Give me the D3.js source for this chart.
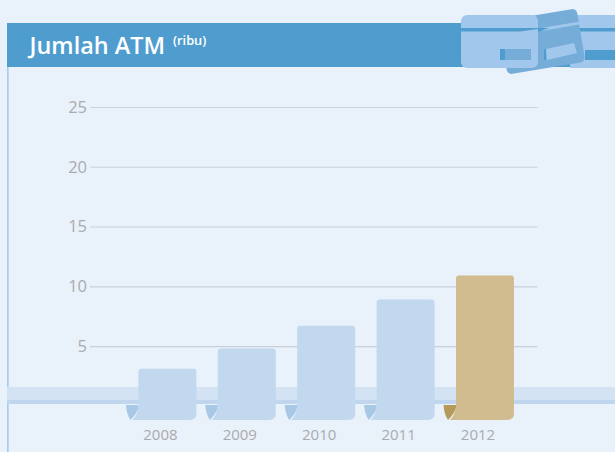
<!DOCTYPE html>
<html>
<head>
<meta charset="utf-8">
<script src="https://d3js.org/d3.v7.min.js"></script>
<style>
  html, body { margin: 0; padding: 0; background: #e9f1fa; }
  svg { display: block; font-family: "Open Sans", sans-serif; }
</style>
</head>
<body>
<script>
var years = ["2008", "2009", "2010", "2011", "2012"];
var atm = [3.1, 4.8, 6.7, 8.9, 10.9];
var yTicks = [5, 10, 15, 20, 25];

var width = 615, height = 452;
var svg = d3.select("body").append("svg").attr("width", width).attr("height", height);

var y = d3.scaleLinear().domain([0, 25]).range([405.8, 107]);
var x = d3.scaleBand().domain(years).range([127.7, 524.7]).paddingInner(0.27).paddingOuter(0.135);
var baseY = 420;

// header
svg.append("rect").attr("x", 7).attr("y", 23).attr("width", 608).attr("height", 44).attr("fill", "#4f9dcf");
svg.append("rect").attr("x", 7).attr("y", 67).attr("width", 1.7).attr("height", 385).attr("fill", "#a8cdea");

svg.append("text").attr("x", 29.5).attr("y", 54).attr("fill", "#fff").attr("font-size", 23.4).attr("font-weight", 600).text("Jumlah ATM");
svg.append("text").attr("x", 173).attr("y", 45).attr("fill", "#fff").attr("font-size", 12.8).attr("font-weight", 600).text("(ribu)");

// kartu ATM
var cardLight = "#a1c8ec", cardDark = "#76acd8", stripe = "#4f9dcf";
var icon = svg.append("g");
// kartu kanan
icon.append("rect").attr("x", 570).attr("y", 15).attr("width", 50).attr("height", 53).attr("fill", cardLight);
icon.append("rect").attr("x", 570).attr("y", 28).attr("width", 45).attr("height", 3.5).attr("fill", stripe);
icon.append("rect").attr("x", 585).attr("y", 50).attr("width", 30).attr("height", 10).attr("fill", stripe);
// kartu miring
var back = icon.append("g").attr("transform", "translate(542,41.5) rotate(-9.5)");
back.append("rect").attr("x", -39.5).attr("y", -27).attr("width", 79).attr("height", 54).attr("rx", 5).attr("fill", cardDark);
back.append("rect").attr("x", 3).attr("y", -13.5).attr("width", 36.5).attr("height", 3).attr("fill", cardLight);
icon.append("path").attr("d", "M538,28H549L538,32Z").attr("fill", stripe);
icon.append("rect").attr("x", 544).attr("y", 49).attr("width", 2).attr("height", 11).attr("fill", stripe);
icon.append("path").attr("d", "M546,49L574,43L577,53L547,60Z").attr("fill", cardLight);
// kartu depan
icon.append("rect").attr("x", 461).attr("y", 15).attr("width", 77).attr("height", 53).attr("rx", 6).attr("fill", cardLight);
icon.append("path").attr("d", "M461,28H538V29L520,31.5H461Z").attr("fill", stripe);
icon.append("rect").attr("x", 500).attr("y", 49).attr("width", 5.5).attr("height", 11).attr("fill", stripe);
icon.append("rect").attr("x", 505).attr("y", 49).attr("width", 26).attr("height", 11).attr("fill", cardDark);

// grid + label sumbu
var yAxis = d3.axisLeft(y).tickValues(yTicks).tickSize(-447.5).tickPadding(3);
var gy = svg.append("g").attr("transform", "translate(90,0)").call(yAxis);
gy.select(".domain").remove();
gy.selectAll(".tick line").attr("stroke", "#c9d0d8").attr("stroke-width", 1.2);
gy.selectAll(".tick text").attr("fill", "#a9abae").attr("font-size", 16.5).attr("font-family", "'Open Sans', sans-serif");

// pita bawah
svg.append("rect").attr("x", 7).attr("y", 387).attr("width", 608).attr("height", 13).attr("fill", "#d3e3f4");
svg.append("rect").attr("x", 7).attr("y", 400).attr("width", 608).attr("height", 4).attr("fill", "#bfd6ee");

// batang
var bars = svg.append("g").selectAll("g").data(years).enter().append("g");

bars.append("path")
  .attr("fill", function(d) { return d === "2012" ? "#b59a5c" : "#a9c8e6"; })
  .attr("d", function(d) {
    var l = x(d);
    return "M" + (l - 12.5) + ",405H" + l + "V408Q" + (l - 2) + ",414 " + (l - 8) + ",420Q" + (l - 12) + ",414 " + (l - 12.5) + ",405Z";
  });

bars.append("path")
  .attr("fill", function(d) { return d === "2012" ? "#d1bc8f" : "#c2d8ef"; })
  .attr("d", function(d, i) {
    var l = x(d), r = l + x.bandwidth(), t = y(atm[i]);
    return "M" + l + "," + (t + 3) + "Q" + l + "," + t + " " + (l + 3) + "," + t +
      "H" + (r - 3) + "Q" + r + "," + t + " " + r + "," + (t + 3) +
      "V" + (baseY - 6) + "Q" + r + "," + baseY + " " + (r - 8) + "," + baseY +
      "H" + (l - 6) + "Q" + (l - 1) + "," + (baseY - 5) + " " + l + "," + (baseY - 14) + "Z";
  });

bars.append("text")
  .attr("x", function(d) { return x(d) + x.bandwidth() / 2 - 7; })
  .attr("y", 440)
  .attr("text-anchor", "middle")
  .attr("fill", "#a9abae")
  .attr("font-size", 15)
  .text(function(d) { return d; });
</script>
</body>
</html>
